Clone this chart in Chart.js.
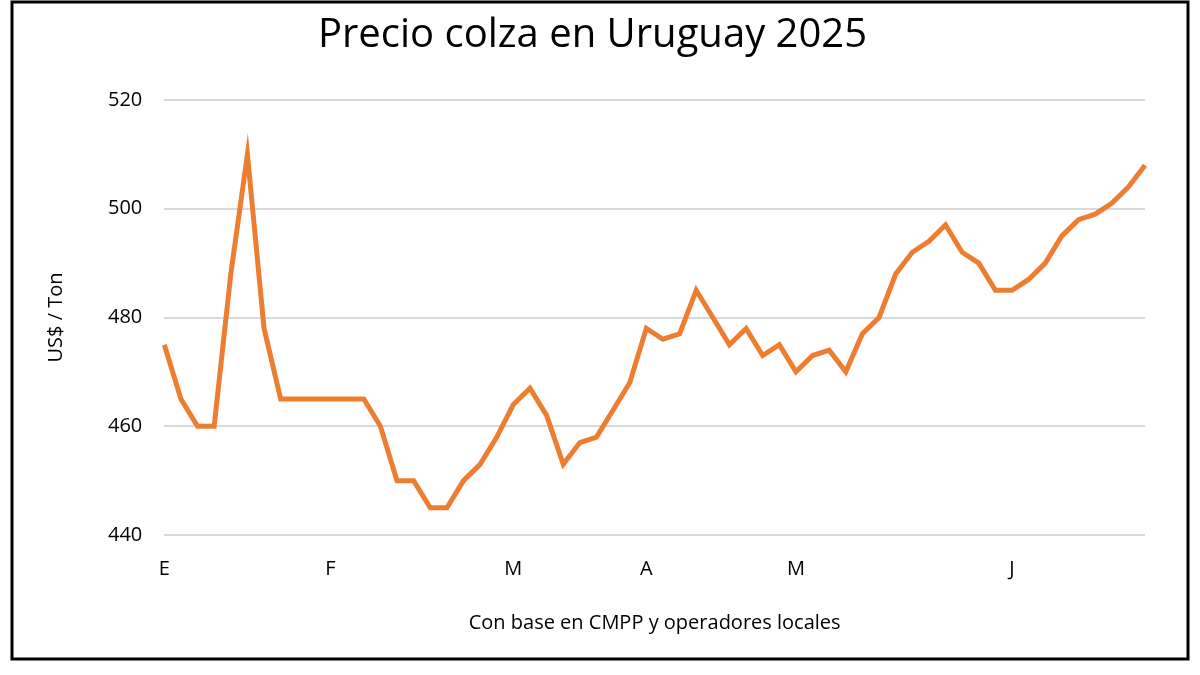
<!DOCTYPE html>
<html><head><meta charset="utf-8">
<script src="https://cdn.jsdelivr.net/npm/chart.js@4/dist/chart.umd.min.js"></script>
<style>html,body{margin:0;padding:0;background:#fff}#w{position:absolute;left:0;top:0;width:1200px;height:675px}</style>
</head><body><div id="w"><canvas id="c" width="1200" height="675"></canvas></div>
<script>
const prices=[475,465,460,460,488,510,478,465,465,465,465,465,465,460,450,450,445,445,450,453,458,464,467,462,453,457,458,463,468,478,476,477,485,480,475,478,473,475,470,473,474,470,477,480,488,492,494,497,492,490,485,485,487,490,495,498,499,501,504,508];
const monthLabels={0:'E',10:'F',21:'M',29:'A',38:'M',51:'J'};
const categories=prices.map((_,i)=>monthLabels[i]||'');
const yTicks=[440,460,480,500,520];
const frame={id:'frame',afterDraw(ch){const c=ch.ctx;c.save();c.strokeStyle='#000';c.lineWidth=3;c.strokeRect(12,2,1176,657);c.restore();}};
new Chart(document.getElementById('c'),{type:'line',
data:{labels:categories,datasets:[{data:prices,borderColor:'#ED7D31',borderWidth:5,pointRadius:0,tension:0,borderJoinStyle:'miter'}]},
options:{responsive:false,animation:false,
layout:{padding:{left:40,right:55,top:12,bottom:36}},
plugins:{legend:{display:false},tooltip:{enabled:false},
title:{display:true,text:'Precio colza en Uruguay 2025',font:{family:'Open Sans',size:40,weight:'normal'},color:'#000',padding:{top:0,bottom:40}}},
scales:{
x:{offset:false,grid:{display:false},border:{display:false},
ticks:{autoSkip:false,maxRotation:0,color:'#000',font:{family:'Open Sans',size:20},padding:14},
title:{display:true,text:'Con base en CMPP y operadores locales',color:'#000',font:{family:'Open Sans',size:20},padding:{top:16}}},
y:{min:440,max:520,afterBuildTicks(a){a.ticks=yTicks.map(v=>({value:v}));},
grid:{color:'#d9d9d9',lineWidth:2,drawTicks:false},border:{display:false},
ticks:{color:'#000',font:{family:'Open Sans',size:20},padding:22},
title:{display:true,text:'US$ / Ton',color:'#000',font:{family:'Open Sans',size:20},padding:{bottom:18}}}}},
plugins:[frame]});
</script></body></html>
